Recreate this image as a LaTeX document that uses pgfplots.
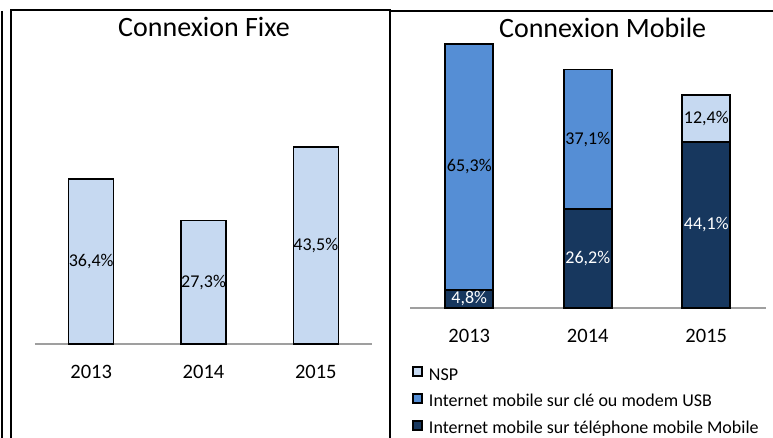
\documentclass[border=0pt]{standalone}
\usepackage{pgfplots}
\pgfplotsset{compat=1.18}
\usepackage{fontspec}
\setmainfont{Carlito}
\definecolor{light}{HTML}{C6D9F1}
\definecolor{mid}{HTML}{558ED5}
\definecolor{dark}{HTML}{17375E}
\begin{document}
\begin{tikzpicture}
\useasboundingbox (0pt,0pt) rectangle (773pt,-438pt);
% panel frames
\draw[line width=2pt] (2pt,-11pt) -- (2pt,-438pt);
\draw[line width=2pt] (11pt,-438pt) -- (11pt,-10pt) -- (389.5pt,-10pt) -- (389.5pt,-438pt);
\draw[line width=2pt] (389.5pt,-11.5pt) -- (773pt,-11.5pt);

\pgfplotsset{
  common/.style={
    scale only axis, xmin=-0.5, xmax=2.5, ymin=0,
    axis x line*=bottom, axis y line=none,
    x axis line style={draw=gray!75, line width=1.5pt, -},
    xtick={0,1,2}, xticklabels={2013,2014,2015},
    major tick length=0pt,
    xticklabel style={anchor=base, yshift=-34pt, font=\fontsize{20.5}{24}\selectfont},
    clip=false,
    title style={anchor=base, font=\fontsize{28}{34}\selectfont},
    nodes near coords, point meta=explicit symbolic,
    visualization depends on=rawy \as \rawy,
    every node near coord/.append style={anchor=center, inner sep=0pt,
      shift={(axis direction cs:0,-\rawy/2)}, font=\fontsize{18}{22}\selectfont},
  }
}

\begin{axis}[common,
  at={(35pt,-344pt)}, anchor=south west,
  width=337pt, height=271.8pt, ymax=60,
  ybar, bar width=45pt,
  title={Connexion Fixe},
  title style={at={(axis description cs:0.5015,1.111)}},
]
\addplot[fill=light, draw=black, line width=1.6pt]
  coordinates {(0,36.4) [36,4\%] (1,27.3) [27,3\%] (2,43.5) [43,5\%]};
\end{axis}

\begin{axis}[common,
  at={(410pt,-308pt)}, anchor=south west,
  width=355.5pt, height=282.75pt, ymax=75,
  ybar stacked, bar width=48pt,
  title={Connexion Mobile},
  title style={at={(axis description cs:0.542,0.937)}},
  reverse legend,
  legend cell align=left,
  legend style={at={(axis description cs:0.0056,-0.205)}, anchor=north west,
    draw=none, fill=none, inner sep=0pt, row sep=9pt,
    font=\fontsize{18}{22}\selectfont,
    nodes={inner sep=0pt, text height=13pt, text depth=4pt}},
  legend image code/.code={\filldraw[#1, draw=black, line width=1.8pt] (0.5pt,-0.5pt) rectangle (9.5pt,8.5pt);},
]
\addplot[fill=dark, draw=black, line width=1.6pt, every node near coord/.append style={text=white}]
  coordinates {(0,4.8) [4,8\%] (1,26.2) [26,2\%] (2,44.1) [44,1\%]};
\addlegendentry{\hspace{6pt}Internet mobile sur téléphone mobile Mobile}
\addplot[fill=mid, draw=black, line width=1.6pt]
  coordinates {(0,65.3) [65,3\%] (1,37.1) [37,1\%] (2,0) []};
\addlegendentry{\hspace{6pt}Internet mobile sur clé ou modem USB}
\addplot[fill=light, draw=black, line width=1.6pt]
  coordinates {(0,0) [] (1,0) [] (2,12.4) [12,4\%]};
\addlegendentry{\hspace{6pt}NSP}
\end{axis}
\end{tikzpicture}
\end{document}
